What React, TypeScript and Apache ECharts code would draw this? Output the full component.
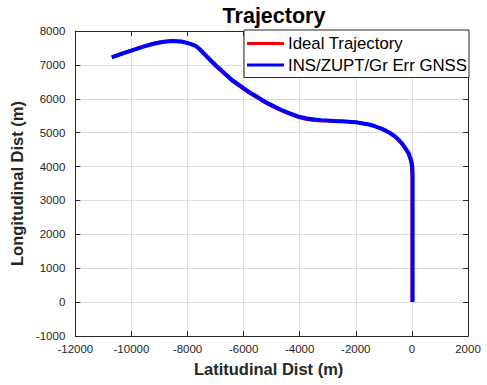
import React, { useEffect, useRef } from "react";
import * as echarts from "echarts";

const titleText = "Trajectory";
const xAxisName = "Latitudinal Dist (m)";
const yAxisName = "Longitudinal Dist (m)";
const seriesNames = ["Ideal Trajectory", "INS/ZUPT/Gr Err GNSS"];

const xRange = [-12000, 2000, 2000];
const yRange = [-1000, 8000, 1000];

const idealPath: [number, number][] = [
  [-10700, 7235], [-10300, 7355], [-10000, 7435], [-9600, 7545], [-9243, 7632],
  [-8900, 7690], [-8536, 7720], [-8182, 7695], [-7900, 7625], [-7711, 7555],
  [-7600, 7475], [-7475, 7365], [-7250, 7170], [-7004, 6965], [-6700, 6740],
  [-6414, 6525], [-6100, 6340], [-5824, 6180], [-5500, 6020], [-5237, 5885],
  [-4950, 5760], [-4647, 5640], [-4350, 5540], [-4057, 5450], [-3750, 5390],
  [-3468, 5360], [-3232, 5345], [-2762, 5350], [-2400, 5338], [-2000, 5312],
  [-1800, 5284], [-1581, 5248], [-1330, 5190], [-1111, 5120], [-930, 5045],
  [-758, 4962], [-600, 4868], [-464, 4760], [-340, 4640], [-227, 4505],
  [-120, 4360], [-60, 4200], [-20, 4030], [-5, 3850], [0, 3700], [0, 0],
];

const insPath: [number, number][] = [
  [-10700, 7220], [-10300, 7340], [-10000, 7420], [-9600, 7530], [-9243, 7616],
  [-8900, 7675], [-8536, 7705], [-8182, 7684], [-7900, 7620], [-7711, 7560],
  [-7600, 7490], [-7475, 7389], [-7250, 7200], [-7004, 6997], [-6700, 6770],
  [-6414, 6554], [-6100, 6370], [-5824, 6209], [-5500, 6050], [-5237, 5914],
  [-4950, 5790], [-4647, 5669], [-4350, 5570], [-4057, 5480], [-3750, 5420],
  [-3468, 5390], [-3232, 5370], [-3232, 5353], [-2762, 5344], [-2400, 5330],
  [-2000, 5306], [-1800, 5280], [-1581, 5247], [-1330, 5195], [-1111, 5129],
  [-930, 5060], [-758, 4981], [-600, 4890], [-464, 4784], [-340, 4670],
  [-227, 4539], [-120, 4400], [-51, 4244], [0, 4100], [20, 3900],
  [25, 3700], [25, 0],
];

const FONT = "'Liberation Sans', Arial, Helvetica, sans-serif";
const AX = "#262626";

export default function App() {
  const ref = useRef<HTMLDivElement>(null);
  useEffect(() => {
    if (!ref.current) return;
    const chart = echarts.init(ref.current, undefined, { renderer: "svg" });
    const axisCommonX = {
      type: "value" as const,
      min: xRange[0],
      max: xRange[1],
      interval: xRange[2],
    };
    const axisCommonY = {
      type: "value" as const,
      min: yRange[0],
      max: yRange[1],
      interval: yRange[2],
    };
    const fmt = (v: number) => String(v);
    chart.setOption({
      animation: false,
      backgroundColor: "#ffffff",
      textStyle: { fontFamily: FONT },
      title: {
        text: titleText,
        left: 269,
        textAlign: "center",
        top: 0,
        textStyle: { fontFamily: FONT, fontSize: 21.5, fontWeight: "bold", color: "#000" },
      },
      grid: { left: 72, right: 19, top: 31, bottom: 49, containLabel: false },
      legend: {
        orient: "vertical",
        right: 18,
        top: 30,
        padding: [5, 2, 4, 3],
        itemGap: 4.5,
        itemWidth: 37,
        itemHeight: 3,
        icon: "rect",
        backgroundColor: "#ffffff",
        borderColor: AX,
        borderWidth: 1,
        borderRadius: 0,
        textStyle: { fontFamily: FONT, fontSize: 16.8, color: "#000", padding: [0, 0, 0, -1] },
        data: seriesNames,
      },
      xAxis: [
        {
          ...axisCommonX,
          position: "bottom",
          name: xAxisName,
          nameLocation: "middle",
          nameGap: 24,
          nameTextStyle: { fontFamily: FONT, fontSize: 16.5, fontWeight: "bold", color: AX, padding: [0, 6, 0, 0] },
          axisLine: { show: true, onZero: false, lineStyle: { color: AX, width: 1 } },
          axisTick: { show: true, inside: true, length: 5, lineStyle: { color: AX } },
          axisLabel: { fontFamily: FONT, fontSize: 11.5, color: AX, margin: 7, formatter: fmt },
          splitLine: { show: true, lineStyle: { color: "#dfdfdf", width: 1 } },
        },
        {
          ...axisCommonX,
          position: "top",
          axisLine: { show: true, onZero: false, lineStyle: { color: AX, width: 1 } },
          axisTick: { show: true, inside: true, length: 5, lineStyle: { color: AX } },
          axisLabel: { show: false },
          splitLine: { show: false },
        },
      ],
      yAxis: [
        {
          ...axisCommonY,
          position: "left",
          name: yAxisName,
          nameLocation: "middle",
          nameGap: 42,
          nameTextStyle: { fontFamily: FONT, fontSize: 16.5, fontWeight: "bold", color: AX },
          axisLine: { show: true, onZero: false, lineStyle: { color: AX, width: 1 } },
          axisTick: { show: true, inside: true, length: 5, lineStyle: { color: AX } },
          axisLabel: { fontFamily: FONT, fontSize: 11.5, color: AX, margin: 10, formatter: fmt },
          splitLine: { show: true, lineStyle: { color: "#dfdfdf", width: 1 } },
        },
        {
          ...axisCommonY,
          position: "right",
          axisLine: { show: true, onZero: false, lineStyle: { color: AX, width: 1 } },
          axisTick: { show: true, inside: true, length: 5, lineStyle: { color: AX } },
          axisLabel: { show: false },
          splitLine: { show: false },
        },
      ],
      series: [
        {
          name: seriesNames[0],
          type: "line",
          xAxisIndex: 0,
          yAxisIndex: 0,
          data: idealPath,
          showSymbol: false,
          color: "#ff0000",
          lineStyle: { color: "#ff0000", width: 3 },
          z: 2,
        },
        {
          name: seriesNames[1],
          type: "line",
          xAxisIndex: 0,
          yAxisIndex: 0,
          data: insPath,
          showSymbol: false,
          color: "#0000ff",
          lineStyle: { color: "#0000ff", width: 4 },
          z: 3,
        },
      ],
    });
    return () => chart.dispose();
  }, []);
  return <div ref={ref} style={{ width: 487, height: 385, position: "absolute", left: 0, top: 0 }} />;
}
